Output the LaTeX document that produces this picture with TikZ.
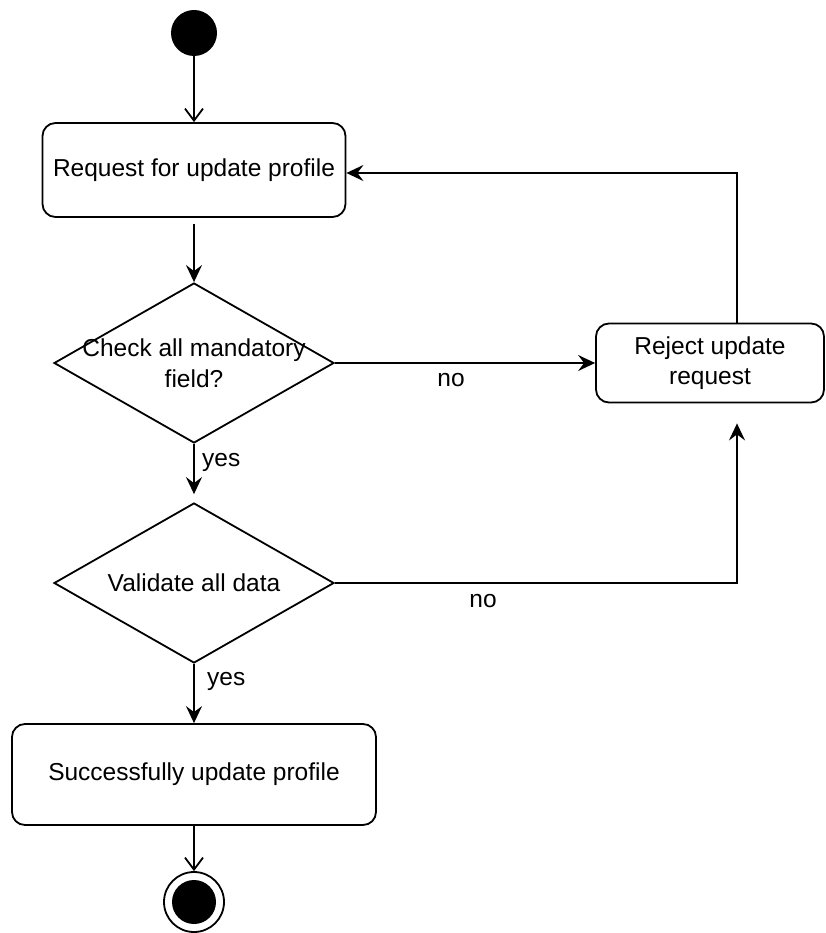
\documentclass[tikz,border=0pt]{standalone}
\usepackage{fontspec}
\setmainfont{Liberation Sans}
\usetikzlibrary{shapes.geometric,arrows.meta,calc}
\begin{document}
\begin{tikzpicture}[x=1pt,y=-1pt,
  every node/.style={font=\fontsize{24.5}{30}\selectfont},
  actbox/.style={draw, line width=1.8pt, rounded corners=13pt, align=center, inner sep=0pt},
  decbox/.style={draw, diamond, line width=1.8pt, inner sep=0pt, minimum width=280pt, minimum height=160pt},
  flow/.style={line width=1.8pt, -{Stealth[length=17pt,width=16pt,inset=6pt]}},
  openflow/.style={line width=1.8pt, -{Straight Barb[length=12pt,width=18pt,line width=1.8pt]}},
  lbl/.style={inner sep=0pt}]
\useasboundingbox (0,0) rectangle (825,933);
\node[circle, fill=black, minimum size=46pt, inner sep=0pt] (start) at (194,33) {};
\node[actbox, minimum width=303pt, minimum height=94pt] (box1) at (194,170) {Request for update profile};
\node[decbox, label={[align=center,font=\fontsize{24.5}{31}\selectfont]center:Check all mandatory\\field?}] (d1) at (194,363) {};
\node[actbox, minimum width=228pt, minimum height=79pt] (reject) at (710,363) {Reject update\\request};
\node[decbox, label={[font=\fontsize{24.5}{30}\selectfont]center:Validate all data}] (d2) at (194,583) {};
\node[actbox, minimum width=364pt, minimum height=101pt] (succ) at (194,774.5) {Successfully update profile};
\node[circle, draw, line width=1.8pt, minimum size=60pt, inner sep=0pt,
  path picture={\fill[black] (path picture bounding box.center) circle (22pt);}] (end) at (194,902) {};
\coordinate (rbot) at ($(reject.south)+(27,20)$);
\coordinate (rtop) at ($(reject.north)+(27,0)$);

\draw[openflow] (start) -- (box1.north);
\draw[flow] ([yshift=-6pt]box1.south) -- (d1.north);
\draw[flow] (d1.east) -- (reject.west);
\draw[flow] (rtop) |- ([yshift=-3pt]box1.east);
\draw[flow, shorten >=8pt] (d1.south) -- (d2.north);
\draw[flow] (d2.east) -| (rbot);
\draw[flow] (d2.south) -- (succ.north);
\draw[openflow] (succ.south) -- (end.north);

\node[lbl] (no1) at (451,380) {no};
\node[lbl] (no2) at (483,601) {no};
\node[lbl, anchor=west] (yes1) at (202,462) {yes};
\node[lbl, anchor=west] (yes2) at (207,681) {yes};
\end{tikzpicture}
\end{document}
